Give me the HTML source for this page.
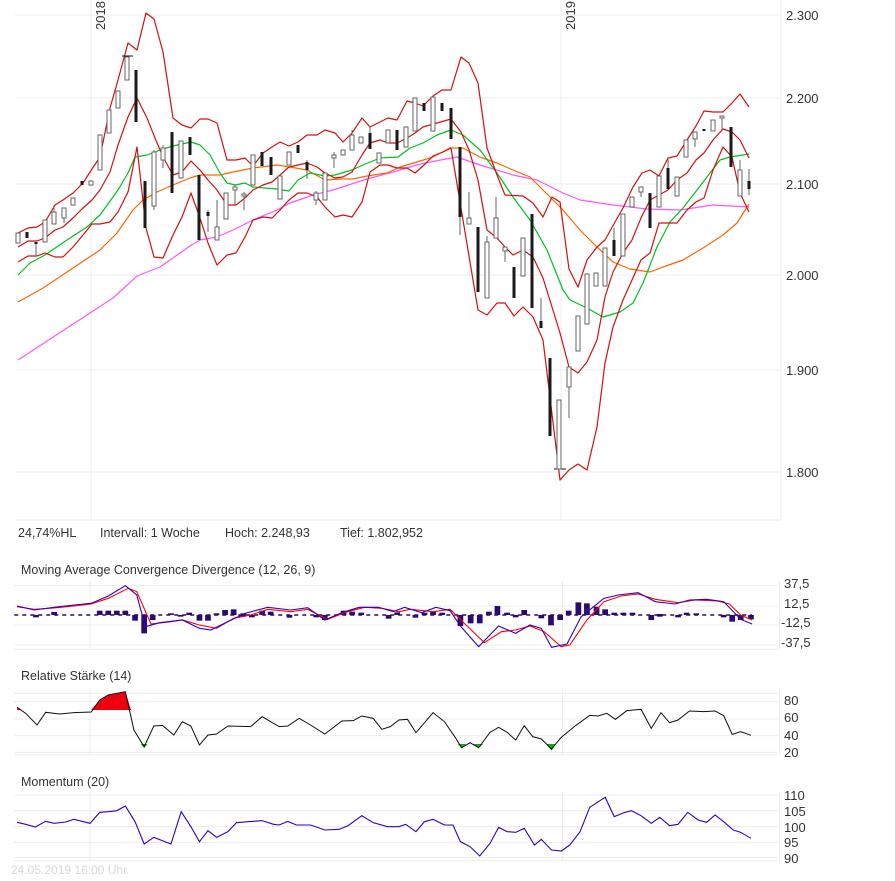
<!DOCTYPE html>
<html><head><meta charset="utf-8"><style>
body{margin:0;background:#fff;width:895px;height:881px;overflow:hidden;font-family:"Liberation Sans",sans-serif}
svg{position:absolute;left:0;top:0}
text{font-family:"Liberation Sans",sans-serif;fill:#333}
</style></head><body>
<svg width="895" height="881" viewBox="0 0 895 881">
<g stroke="#ececec" stroke-width="1" fill="none">
<line x1="15" y1="15" x2="780" y2="15"/><line x1="15" y1="98" x2="780" y2="98"/><line x1="15" y1="184" x2="780" y2="184"/><line x1="15" y1="275" x2="780" y2="275"/><line x1="15" y1="370" x2="780" y2="370"/><line x1="15" y1="472" x2="780" y2="472"/>
<line x1="91" y1="0" x2="91" y2="520"/><line x1="561" y1="0" x2="561" y2="520"/>
<line x1="781" y1="0" x2="781" y2="520"/><line x1="15" y1="520" x2="780" y2="520"/>
</g>
<text x="0" y="0" transform="translate(105,30) rotate(-90)" font-size="13" fill="#444">2018</text>
<text x="0" y="0" transform="translate(575,30) rotate(-90)" font-size="13" fill="#444">2019</text>
<g font-size="13" fill="#333">
<text x="786" y="20">2.300</text><text x="786" y="103">2.200</text><text x="786" y="189">2.100</text><text x="786" y="280">2.000</text><text x="786" y="375">1.900</text><text x="786" y="477">1.800</text>
</g>
<g fill="none" stroke-width="1.2" stroke-linejoin="round">
<polyline stroke="#ff55ff" points="18,360 113,298 137,276 160,267 190,246 200,240 217,237 233,230 253,220 277,210 290,203 313,195 333,190 367,179 393,172 417,165 430,162 457,157 480,165 513,175 537,180 563,193 580,200 613,205 647,209 680,210 713,205 749,207"/>
<polyline stroke="#ff6600" points="18,302 43,288 67,272 100,250 117,233 133,210 143,200 157,192 173,185 190,178 200,175 220,175 233,172 253,168 277,165 290,167 307,170 325,180 340,179 353,179 367,176 387,173 400,167 417,162 433,157 450,148 463,148 480,157 497,163 513,170 530,177 543,190 563,210 580,230 597,247 613,262 630,269 650,272 663,267 683,260 703,248 723,235 737,223 749,204"/>
<polyline stroke="#00c020" points="18,275 30,263 45,255 67,240 87,227 100,215 118,190 128,173 135,157 147,155 163,149 173,146 191,142 200,145 210,155 220,173 227,183 235,185 245,183 253,187 265,188 277,189 289,191 298,180 310,173 325,176 335,175 352,170 363,165 380,158 398,157 410,148 423,143 437,135 451,130 463,135 480,150 497,173 513,197 530,220 547,250 563,290 570,300 587,308 603,317 620,312 633,303 643,283 657,247 670,222 683,208 697,190 710,173 720,160 730,157 749,154"/>
<polyline stroke="#d21010" points="18,233 28,228 37,227 45,222 55,205 63,200 73,193 83,183 92,169 100,157 110,108 118,80 128,43 137,50 146,13 154,19 163,52 173,118 182,125 191,128 200,119 208,119 217,123 227,160 236,160 245,158 253,166 263,153 272,147 280,142 289,146 298,142 307,135 317,135 325,130 335,133 343,142 352,133 362,118 370,127 380,122 388,118 397,120 407,101 415,103 423,106 433,96 442,90 451,90 461,57 469,63 478,83 487,148 497,175 505,195 523,196 533,203 543,217 552,197 560,202 569,269 578,287 587,260 597,247 605,240 615,222 623,208 633,187 642,173 650,170 659,176 668,158 677,156 687,140 696,126 704,111 713,112 723,112 732,103 740,94 749,107"/>
<polyline stroke="#d21010" points="18,247 28,241 37,241 45,238 55,230 63,227 73,218 83,208 92,200 100,190 110,172 118,145 128,117 137,98 147,118 155,138 163,157 173,175 182,172 191,161 200,170 208,180 217,190 227,205 236,205 245,198 253,190 263,185 272,182 280,175 289,167 298,165 307,163 317,167 325,173 335,178 343,177 352,172 362,155 370,143 380,140 388,143 397,143 407,138 415,133 423,127 430,125 451,119 461,132 469,150 478,180 487,230 497,238 505,247 513,255 523,250 533,257 543,278 552,307 560,333 569,367 578,373 587,362 597,340 605,297 613,272 623,253 632,240 641,218 650,200 659,195 668,190 677,180 687,173 696,160 704,153 713,140 723,129 732,132 740,140 749,158"/>
<polyline stroke="#d21010" points="18,262 28,256 37,256 45,253 55,257 63,257 73,247 83,235 92,224 100,224 110,222 118,212 128,192 137,147 146,228 154,257 163,258 173,235 182,217 191,193 200,218 208,243 217,265 227,255 236,253 245,237 253,220 263,217 272,218 280,210 289,200 298,193 307,193 317,197 325,207 335,217 343,215 352,217 362,202 370,172 380,165 388,165 397,168 407,168 415,173 423,166 433,156 443,152 451,148 478,310 487,315 497,303 505,303 514,316 523,307 533,317 543,340 560,480 569,470 578,464 587,470 597,427 605,363 613,327 623,300 632,280 641,260 650,253 659,223 668,223 677,223 687,210 696,202 704,198 713,170 723,147 732,157 740,193 749,212"/>
</g>
<g stroke="#666" stroke-width="1">
<line x1="36" y1="242" x2="36" y2="256"/><line x1="54" y1="205" x2="54" y2="224"/><line x1="64" y1="208" x2="64" y2="223"/><line x1="154" y1="150" x2="154" y2="210"/><line x1="163" y1="145" x2="163" y2="168"/><line x1="208" y1="210" x2="208" y2="232"/><line x1="217" y1="200" x2="217" y2="240"/><line x1="235" y1="185" x2="235" y2="205"/><line x1="244" y1="192" x2="244" y2="210"/><line x1="307" y1="160" x2="307" y2="179"/><line x1="316" y1="191" x2="316" y2="205"/><line x1="334" y1="152" x2="334" y2="168"/><line x1="352" y1="130" x2="352" y2="150"/><line x1="370" y1="126" x2="370" y2="149"/><line x1="460" y1="147" x2="460" y2="235"/><line x1="469" y1="192" x2="469" y2="224"/><line x1="487" y1="236" x2="487" y2="298"/><line x1="496" y1="197" x2="496" y2="238"/><line x1="505" y1="247" x2="505" y2="262"/><line x1="541" y1="298" x2="541" y2="328"/><line x1="569" y1="367" x2="569" y2="418"/><line x1="614" y1="228" x2="614" y2="256"/><line x1="641" y1="187" x2="641" y2="197"/><line x1="668" y1="159" x2="668" y2="189"/><line x1="695" y1="132" x2="695" y2="147"/><line x1="722" y1="116" x2="722" y2="130"/><line x1="740" y1="160" x2="740" y2="196"/><line x1="749" y1="169" x2="749" y2="195"/>
<line x1="122" y1="56" x2="133" y2="56" stroke="#111"/><line x1="554" y1="469" x2="566" y2="469" stroke="#111"/>
</g>
<g fill="#fff" stroke="#666" stroke-width="1">
<rect x="16" y="233" width="4" height="10"/><rect x="43" y="220" width="4" height="22"/><rect x="52" y="212" width="4" height="12"/><rect x="62" y="208" width="4" height="10"/><rect x="71" y="198" width="4" height="7"/><rect x="89" y="181" width="4" height="4"/><rect x="98" y="135" width="4" height="35"/><rect x="107" y="110" width="4" height="23"/><rect x="116" y="91" width="4" height="17"/><rect x="125" y="57" width="4" height="23"/><rect x="152" y="152" width="4" height="54"/><rect x="161" y="148" width="4" height="12"/><rect x="179" y="141" width="4" height="37"/><rect x="215" y="227" width="4" height="13"/><rect x="224" y="193" width="4" height="26"/><rect x="233" y="187" width="4" height="3"/><rect x="242" y="194" width="4" height="2"/><rect x="251" y="155" width="4" height="30"/><rect x="278" y="176" width="4" height="23"/><rect x="287" y="152" width="4" height="13"/><rect x="314" y="193" width="4" height="7"/><rect x="323" y="173" width="4" height="27"/><rect x="332" y="155" width="4" height="3"/><rect x="341" y="150" width="4" height="5"/><rect x="350" y="135" width="4" height="15"/><rect x="359" y="137" width="4" height="6"/><rect x="377" y="153" width="4" height="10"/><rect x="386" y="130" width="4" height="13"/><rect x="404" y="127" width="4" height="20"/><rect x="413" y="98" width="4" height="33"/><rect x="431" y="97" width="4" height="34"/><rect x="467" y="218" width="4" height="6"/><rect x="485" y="242" width="4" height="56"/><rect x="494" y="218" width="4" height="20"/><rect x="503" y="247" width="4" height="4"/><rect x="521" y="238" width="4" height="38"/><rect x="557" y="400" width="4" height="69"/><rect x="567" y="367" width="4" height="20"/><rect x="576" y="316" width="4" height="35"/><rect x="585" y="274" width="4" height="50"/><rect x="594" y="273" width="4" height="13"/><rect x="603" y="248" width="4" height="38"/><rect x="621" y="214" width="4" height="42"/><rect x="630" y="197" width="4" height="10"/><rect x="639" y="187" width="4" height="5"/><rect x="657" y="176" width="4" height="31"/><rect x="675" y="177" width="4" height="19"/><rect x="684" y="140" width="4" height="17"/><rect x="693" y="132" width="4" height="7"/><rect x="711" y="120" width="4" height="11"/><rect x="720" y="116" width="4" height="2"/><rect x="738" y="170" width="4" height="26"/>
</g>
<g fill="#1a1a1a">
<rect x="25.5" y="232" width="3" height="6"/><rect x="34.5" y="242" width="3" height="2"/><rect x="80.5" y="181" width="3" height="4"/><rect x="134.5" y="70" width="3" height="52"/><rect x="143.5" y="181" width="3" height="47"/><rect x="170.5" y="132" width="3" height="61"/><rect x="188.5" y="137" width="3" height="18"/><rect x="197.5" y="175" width="3" height="65"/><rect x="206.5" y="212" width="3" height="4"/><rect x="260.5" y="152" width="3" height="14"/><rect x="269.5" y="157" width="3" height="18"/><rect x="296.5" y="145" width="3" height="8"/><rect x="305.5" y="162" width="3" height="8"/><rect x="368.5" y="133" width="3" height="16"/><rect x="395.5" y="130" width="3" height="20"/><rect x="422.5" y="103" width="3" height="8"/><rect x="440.5" y="103" width="3" height="8"/><rect x="449.5" y="108" width="3" height="31"/><rect x="458.5" y="147" width="3" height="70"/><rect x="476.5" y="227" width="3" height="65"/><rect x="512.5" y="267" width="3" height="31"/><rect x="530.5" y="214" width="3" height="94"/><rect x="539.5" y="321" width="3" height="7"/><rect x="548.5" y="358" width="3" height="78"/><rect x="612.5" y="240" width="3" height="16"/><rect x="648.5" y="193" width="3" height="35"/><rect x="666.5" y="168" width="3" height="21"/><rect x="702.5" y="129" width="3" height="2"/><rect x="729.5" y="127" width="3" height="40"/><rect x="747.5" y="181" width="3" height="8"/>
</g>
<g font-size="12.5" fill="#222">
<text x="18" y="537">24,74%HL</text><text x="100" y="537">Intervall: 1 Woche</text><text x="225" y="537">Hoch:  2.248,93</text><text x="340" y="537">Tief: 1.802,952</text>
<text x="21" y="574">Moving Average Convergence Divergence (12, 26, 9)</text>
<text x="21" y="680">Relative Stärke (14)</text>
<text x="21" y="786">Momentum (20)</text>
</g>
<text x="11" y="874" font-size="12" fill="#d8d8d8" style="fill:#d8d8d8">24.05.2019 16:00 Uhr</text>
<g font-size="13" fill="#333">
<text x="784" y="588">37,5</text><text x="784" y="608">12,5</text><text x="781" y="627">-12,5</text><text x="781" y="647">-37,5</text>
<text x="784" y="705">80</text><text x="784" y="722">60</text><text x="784" y="740">40</text><text x="784" y="757">20</text>
<text x="784" y="800">110</text><text x="784" y="816">105</text><text x="784" y="832">100</text><text x="784" y="847">95</text><text x="784" y="863">90</text>
</g>
<g transform="translate(0,520) scale(0.5698,0.33333)">
<g stroke="#ececec" fill="none" stroke-width="1">
<path vector-effect="non-scaling-stroke" d="M25 197H1365M25 258H1365M25 315H1365M25 375H1365M25 388H1365M158 185V388M987 185V388M1368 185V388M25 520H1365M25 545H1365M25 597H1365M25 647H1365M25 697H1365M25 705H1365M158 505V705M987 505V705M1368 505V705M25 825H1365M25 872H1365M25 920H1365M25 967H1365M25 1013H1365M25 1022H1365M158 815V1022M987 815V1022M1368 815V1022"/>
</g>
<path vector-effect="non-scaling-stroke" d="M25 285H1320" stroke="#2a0a6e" stroke-width="1.5" stroke-dasharray="4 4" fill="none"/>
<g fill="#2a0a6e">
<rect x="58" y="285" width="10" height="7"/><rect x="90" y="276" width="10" height="9"/><rect x="170" y="272" width="10" height="13"/><rect x="185" y="272" width="10" height="13"/><rect x="200" y="272" width="10" height="13"/><rect x="215" y="272" width="10" height="13"/><rect x="232" y="285" width="10" height="17"/><rect x="248" y="285" width="10" height="55"/><rect x="263" y="285" width="10" height="15"/><rect x="295" y="280" width="10" height="5"/><rect x="312" y="285" width="10" height="5"/><rect x="327" y="278" width="10" height="7"/><rect x="345" y="285" width="10" height="17"/><rect x="360" y="285" width="10" height="17"/><rect x="375" y="280" width="10" height="5"/><rect x="390" y="270" width="10" height="15"/><rect x="405" y="268" width="10" height="17"/><rect x="422" y="280" width="10" height="10"/><rect x="437" y="285" width="10" height="7"/><rect x="455" y="272" width="10" height="13"/><rect x="470" y="275" width="10" height="10"/><rect x="503" y="285" width="10" height="8"/><rect x="550" y="285" width="10" height="7"/><rect x="565" y="285" width="10" height="15"/><rect x="598" y="272" width="10" height="13"/><rect x="613" y="275" width="10" height="10"/><rect x="629" y="278" width="10" height="7"/><rect x="677" y="285" width="10" height="11"/><rect x="692" y="277" width="10" height="8"/><rect x="724" y="285" width="10" height="8"/><rect x="740" y="278" width="10" height="7"/><rect x="755" y="275" width="10" height="10"/><rect x="771" y="278" width="10" height="7"/><rect x="803" y="285" width="10" height="33"/><rect x="821" y="285" width="10" height="25"/><rect x="837" y="285" width="10" height="25"/><rect x="853" y="275" width="10" height="10"/><rect x="868" y="258" width="10" height="27"/><rect x="885" y="278" width="10" height="7"/><rect x="900" y="285" width="10" height="7"/><rect x="915" y="270" width="10" height="15"/><rect x="945" y="285" width="10" height="10"/><rect x="962" y="285" width="10" height="31"/><rect x="978" y="285" width="10" height="15"/><rect x="993" y="272" width="10" height="13"/><rect x="1010" y="247" width="10" height="38"/><rect x="1025" y="250" width="10" height="35"/><rect x="1042" y="260" width="10" height="25"/><rect x="1057" y="268" width="10" height="17"/><rect x="1073" y="278" width="10" height="7"/><rect x="1089" y="278" width="10" height="7"/><rect x="1105" y="278" width="10" height="7"/><rect x="1138" y="285" width="10" height="15"/><rect x="1153" y="282" width="10" height="8"/><rect x="1185" y="285" width="10" height="7"/><rect x="1200" y="278" width="10" height="7"/><rect x="1217" y="280" width="10" height="5"/><rect x="1265" y="285" width="10" height="7"/><rect x="1280" y="285" width="10" height="20"/><rect x="1295" y="285" width="10" height="15"/><rect x="1313" y="285" width="10" height="13"/>
</g>
<g fill="none" stroke-width="1.1">
<polyline vector-effect="non-scaling-stroke" stroke="#ff0000" points="30,260 60,268 95,264 130,258 160,252 190,235 225,205 240,215 265,312 300,305 320,300 350,315 380,325 410,295 440,285 470,268 510,275 540,268 575,298 610,275 640,262 670,265 700,275 720,268 760,275 790,268 815,310 850,368 880,335 905,330 930,318 955,335 985,380 1000,375 1030,300 1060,245 1090,228 1120,222 1150,238 1190,248 1220,240 1260,243 1280,252 1300,285 1320,300"/>
<polyline vector-effect="non-scaling-stroke" stroke="#3300bb" points="30,258 60,270 95,262 130,255 160,250 190,228 220,197 240,225 255,320 280,308 320,300 350,325 370,330 400,305 430,280 470,262 510,270 540,263 570,300 600,278 630,262 665,262 690,275 710,262 740,278 765,262 790,272 808,318 840,380 875,318 905,340 930,315 950,325 968,382 995,372 1020,290 1060,235 1085,225 1120,218 1150,245 1185,252 1210,240 1240,238 1270,245 1300,298 1320,312"/>
</g>
<polygon fill="#ee0010" points="160,570 175,540 190,525 220,515 230,570"/>
<polygon fill="#ee0010" points="30,562 36,570 30,570"/>
<g fill="#10b010">
<polygon points="247,672 253,684 259,672"/><polygon points="803,672 810,684 818,672"/><polygon points="830,672 840,684 848,672"/><polygon points="958,672 968,692 976,672"/>
</g>
<polyline vector-effect="non-scaling-stroke" fill="none" stroke="#111" stroke-width="1" points="30,562 45,580 65,615 80,577 105,582 130,578 160,576 175,540 190,525 220,515 235,630 253,680 270,618 285,616 305,645 320,605 335,618 350,675 365,645 380,642 400,618 440,620 460,590 490,620 505,618 525,595 545,615 570,642 600,603 620,602 635,588 655,595 670,628 685,620 700,600 715,598 730,638 760,578 780,605 800,655 810,683 825,668 840,683 860,637 875,622 890,637 905,660 920,617 935,650 950,657 968,687 985,652 1010,617 1035,586 1050,588 1065,580 1080,598 1100,572 1125,568 1143,625 1160,578 1175,608 1190,600 1210,573 1235,575 1255,573 1270,587 1285,643 1300,635 1318,646"/>
<polyline vector-effect="non-scaling-stroke" fill="none" stroke="#3300bb" stroke-width="1.1" points="30,907 45,913 62,921 80,904 95,910 115,906 130,898 158,910 175,877 190,875 205,872 220,858 237,905 253,972 270,952 300,972 318,875 335,920 350,965 365,932 380,952 400,935 415,908 435,905 460,902 480,913 490,915 505,904 520,915 545,915 570,930 595,928 610,918 635,887 655,908 680,920 700,920 712,913 730,935 745,905 760,898 780,915 795,915 808,965 825,980 842,1008 860,970 875,922 890,935 905,937 920,925 938,975 950,958 968,990 985,993 1000,975 1018,935 1035,862 1062,832 1078,890 1095,878 1108,872 1125,887 1143,910 1158,892 1175,917 1190,913 1207,877 1225,900 1240,907 1255,885 1270,905 1287,930 1300,937 1318,955"/>
</g>
</svg>
</body></html>
